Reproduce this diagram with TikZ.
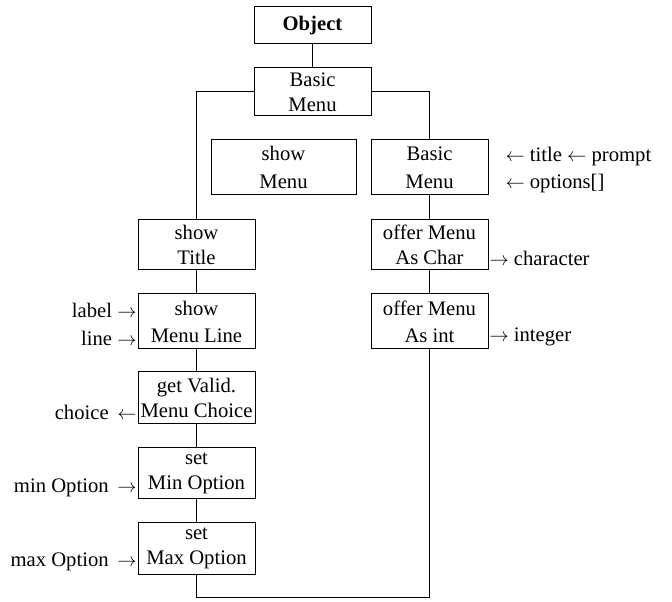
\documentclass[tikz,border=0pt]{standalone}
\usepackage{fontspec}
\setmainfont{Liberation Serif}
\begin{document}
\begin{tikzpicture}[x=0.75pt,y=-0.75pt,line width=0.75pt,
  every node/.style={font=\fontsize{15.5}{18.75}\selectfont},
  box/.style={draw,inner sep=0pt,align=center,minimum width=87.75pt},
  wbox/.style={box,minimum width=108.75pt},
  side/.style={inner sep=0pt}]
\useasboundingbox (0,0) rectangle (672,602);
\node[box,minimum height=27.75pt,font=\fontsize{15.5}{18.75}\selectfont\bfseries] (obj) at (312.5,25.5) {Object};
\node[box,minimum height=36pt] (bm) at (312.5,92) {Basic\\Menu};
\node[wbox,minimum height=41.25pt] (sm) at (283.5,167.5) {show\\[2.25pt]Menu};
\node[box,minimum height=41.25pt] (bm2) at (429.5,167.5) {Basic\\[2.25pt]Menu};
\node[box,minimum height=37.5pt] (st) at (196.5,245) {show\\Title};
\node[box,minimum height=41.25pt] (sml) at (196.5,321.5) {show\\[1.5pt]Menu Line};
\node[box,minimum height=39pt] (gv) at (196.5,398) {get Valid.\\Menu Choice};
\node[box,minimum height=38.25pt] (smin) at (196.5,473.5) {set\\Min Option};
\node[box,minimum height=38.25pt] (smax) at (196.5,548.5) {set\\Max Option};
\node[box,minimum height=37.5pt] (omc) at (429.5,245) {offer Menu\\As Char};
\node[box,minimum height=41.25pt] (omi) at (429.5,321.5) {offer Menu\\[1.5pt]As int};
\coordinate (bot) at (196.5,597);
\draw (obj.south) -- (bm.north);
\draw (bm.west) -| (st.north);
\draw (bm.east) -| (bm2.north);
\draw (st) -- (sml) -- (gv) -- (smin) -- (smax);
\draw (bm2) -- (omc) -- (omi);
\draw (smax.south) -- (bot) -| (omi.south);
% side labels
\node[side,anchor=west] (tp) at (505,157) {$\leftarrow$ title $\leftarrow$ prompt};
\node[side,anchor=west] (op) at (505,184) {$\leftarrow$ options[]};
\node[side,anchor=west] (ch) at (489,258) {$\rightarrow$ character};
\node[side,anchor=west] (in) at (489,337) {$\rightarrow$ integer};
\node[side,anchor=east] (lb) at (137,310) {label $\rightarrow$};
\node[side,anchor=east] (ln) at (137,338) {line $\rightarrow$};
\node[side,anchor=east] (cc) at (137,412) {choice \,$\leftarrow$};
\node[side,anchor=east] (mn) at (137,488) {min Option \,$\rightarrow$};
\node[side,anchor=east] (mx) at (137,562) {max Option \,$\rightarrow$};
\end{tikzpicture}
\end{document}
